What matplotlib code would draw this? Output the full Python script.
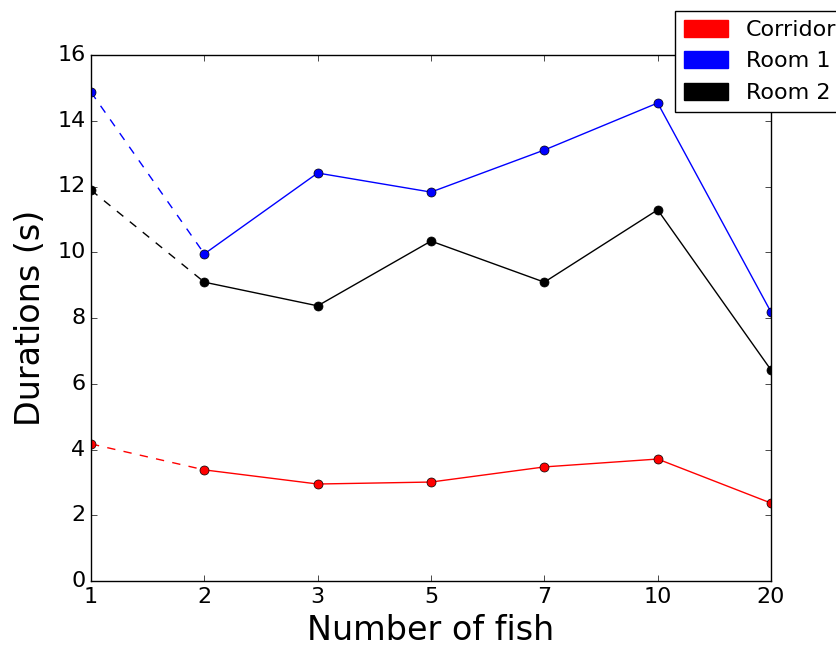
import matplotlib
matplotlib.use("Agg")
import matplotlib.pyplot as plt
import matplotlib.patches as mpatches
import numpy as np

plt.style.use("classic")

fish_counts = ["1", "2", "3", "5", "7", "10", "20"]
corridor = [4.17, 3.38, 2.95, 3.01, 3.47, 3.71, 2.37]
room1 = [14.87, 9.95, 12.41, 11.83, 13.11, 14.54, 8.18]
room2 = [11.89, 9.09, 8.37, 10.34, 9.09, 11.29, 6.42]

series = [("Corridor", corridor, "red"), ("Room 1", room1, "blue"), ("Room 2", room2, "black")]

fig = plt.figure(figsize=(8.37, 6.5), dpi=100, facecolor="white")
ax = fig.add_axes([91 / 837, 1 - 581 / 650, (771 - 91) / 837, (581 - 55) / 650])

x = np.arange(len(fish_counts))
for name, vals, color in series:
    vals = np.array(vals)
    # first segment dashed, rest solid
    ax.plot(x[:2], vals[:2], color=color, linestyle="--", linewidth=1)
    ax.plot(x[1:], vals[1:], color=color, linestyle="-", linewidth=1)
    ax.plot(x, vals, color=color, linestyle="none", marker="o", markersize=6.5,
            markeredgecolor="black")

ax.set_xlim(0, len(fish_counts) - 1)
ax.set_ylim(0, 16)
ax.set_xticks(x)
ax.set_xticklabels(fish_counts)
ax.set_yticks(np.arange(0, 17, 2))
ax.tick_params(labelsize=16)
ax.set_xlabel("Number of fish", fontsize=24)
ax.set_ylabel("Durations (s)", fontsize=24, labelpad=7)

handles = [mpatches.Patch(color=c, label=n) for n, _, c in series]
fig.legend(handles=handles, loc="upper left", bbox_to_anchor=(675 / 837, 1 - 11 / 650),
           fontsize=16, fancybox=False, borderaxespad=0, handleheight=0.8)

fig.savefig("out.png", dpi=100, facecolor="white")
